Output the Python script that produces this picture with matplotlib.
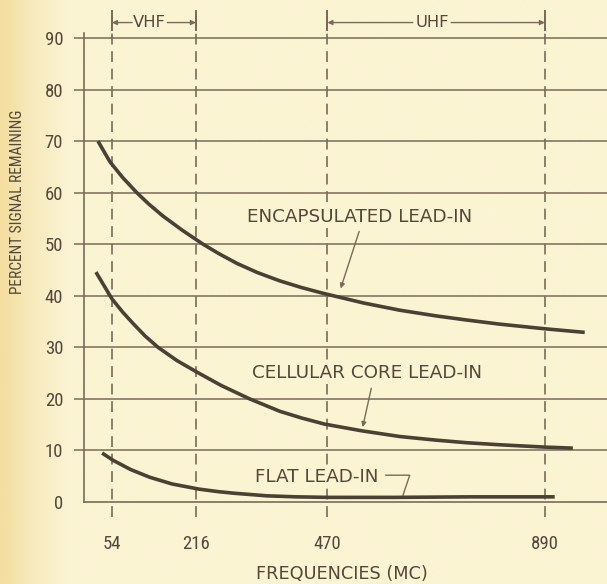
import numpy as np
import matplotlib.pyplot as plt
from matplotlib import font_manager
from matplotlib.colors import LinearSegmentedColormap

# Values (frequency in MC, percent signal remaining)
encap_freq = [27, 50, 75, 102, 125, 152, 190, 230, 260, 295, 335, 378, 420, 461,
              540, 610, 680, 739, 803, 890, 967]
encap_pct = [70, 66, 62.9, 60, 57.8, 55.5, 52.7, 50, 48.2, 46.3, 44.5, 42.9, 41.6, 40.5,
             38.6, 37.2, 36.1, 35.3, 34.5, 33.6, 32.9]

cell_freq = [23, 54, 75, 95, 118, 143, 180, 218, 265, 320, 378, 420, 465, 537,
             610, 680, 739, 803, 890, 944]
cell_pct = [44.6, 39.4, 36.8, 34.6, 32.2, 30, 27.4, 25.2, 22.6, 20, 17.6, 16.3, 15.1, 13.8,
            12.7, 12.0, 11.5, 11.1, 10.65, 10.45]

flat_freq = [35, 56, 90, 127, 170, 222, 260, 290, 353, 410, 470, 600, 750, 890, 909]
flat_pct = [9.5, 8.1, 6.3, 4.8, 3.5, 2.5, 2.0, 1.7, 1.2, 1.0, 0.9, 0.9, 1.0, 1.0, 1.0]

freq_ticks = [54, 216, 470, 890]
pct_ticks = [10, 20, 30, 40, 50, 60, 70, 80, 90]

# narrow face for the numbers and the vertical title
installed = {f.name for f in font_manager.fontManager.ttflist}
narrow = 'DejaVu Sans'
for cand in ['Liberation Sans Narrow', 'DejaVu Sans Condensed', 'Roboto Condensed']:
    if cand in installed:
        narrow = cand
        break
plt.rcParams['font.family'] = 'DejaVu Sans'

cream = '#fbf4d3'
ink = '#7a6a57'
label_col = '#54483c'
curve = '#4a4034'

fig = plt.figure(figsize=(6.07, 5.84), dpi=100)

# paper: yellowed along the left edge, cream elsewhere
bg = fig.add_axes([0, 0, 1, 1])
paper = LinearSegmentedColormap.from_list(
    'paper', [(0, '#f4dea0'), (0.05, '#f7eabd'), (0.11, cream), (1, cream)])
bg.imshow(np.linspace(0, 1, 600)[None, :], aspect='auto', cmap=paper, extent=[0, 1, 0, 1])
bg.set_axis_off()

ax = fig.add_axes([0.1384, 0.1404, 0.8616, 0.7945])
ax.patch.set_alpha(0)
ax.set_xlim(0, 1010)
ax.set_ylim(0, 90)

for s in ['top', 'right']:
    ax.spines[s].set_visible(False)
for s in ['left', 'bottom']:
    ax.spines[s].set_color(ink)
    ax.spines[s].set_linewidth(1.2)
ax.spines['left'].set_bounds(0, 91)

# horizontal rules, starting left of the axis like tick marks
ax.hlines(pct_ticks, -20, 1010, colors=ink, linewidth=1.1, clip_on=False, zorder=1)

# dashed frequency markers running above and below the grid
ax.vlines(freq_ticks, -3, 95, colors=ink, linewidth=1.2,
          linestyles=(0, (6.5, 4)), clip_on=False, zorder=1)

ax.set_yticks([0] + pct_ticks)
ax.set_xticks(freq_ticks)
ax.tick_params(axis='y', length=0, pad=15, labelsize=13.5, labelcolor=label_col)
ax.tick_params(axis='x', length=0, pad=24, labelsize=13.5, labelcolor=label_col)
for lab in ax.get_xticklabels() + ax.get_yticklabels():
    lab.set_fontfamily(narrow)

# the three curves
for fx, py in [(encap_freq, encap_pct), (cell_freq, cell_pct), (flat_freq, flat_pct)]:
    ax.plot(fx, py, color=curve, linewidth=2.6, solid_capstyle='butt',
            solid_joinstyle='round', zorder=3)

box = dict(facecolor=cream, edgecolor='none', pad=1.0)
txt = dict(color=label_col, fontsize=13.2, bbox=box, zorder=2)
arrow = dict(arrowstyle='-|>', color=ink, lw=1.0, mutation_scale=7)
ax.text(533, 55.2, 'ENCAPSULATED LEAD-IN', ha='center', va='center', **txt)
ax.annotate('', xy=(494, 40.9), xytext=(533, 53.0), arrowprops=arrow)
ax.text(546, 25.0, 'CELLULAR CORE LEAD-IN', ha='center', va='center', **txt)
ax.annotate('', xy=(537, 14.0), xytext=(556, 22.6), arrowprops=arrow)
ax.text(330, 4.9, 'FLAT LEAD-IN', ha='left', va='center', **txt)
ax.plot([583, 629, 616], [5.2, 5.2, 1.3], color=ink, linewidth=1.0, zorder=2)

# band brackets across the top
band_y = 93
band_txt = dict(color=label_col, fontsize=11.8)
for lo, hi, name, center, half in [(54, 216, 'VHF', 127, 34), (470, 890, 'UHF', 672, 37)]:
    for xb in (lo, hi):
        ax.plot([xb, xb], [91.5, 95.2], color=ink, linewidth=1.4, clip_on=False)
    ax.text(center, band_y, name, ha='center', va='center', clip_on=False, **band_txt)
    ax.annotate('', xy=(lo, band_y), xytext=(center - half, band_y), annotation_clip=False,
                arrowprops=dict(arrow, shrinkA=0, shrinkB=0))
    ax.annotate('', xy=(hi, band_y), xytext=(center + half, band_y), annotation_clip=False,
                arrowprops=dict(arrow, shrinkA=0, shrinkB=0))

ax.set_xlabel('FREQUENCIES (MC)', fontsize=12.8, color=label_col)
ax.xaxis.set_label_coords(0.493, -0.135)
fig.text(0.029, 0.654, 'PERCENT SIGNAL REMAINING', rotation=90, ha='center', va='center',
         fontsize=11.2, color=label_col, fontfamily=narrow)

fig.savefig('out.png', dpi=100)
